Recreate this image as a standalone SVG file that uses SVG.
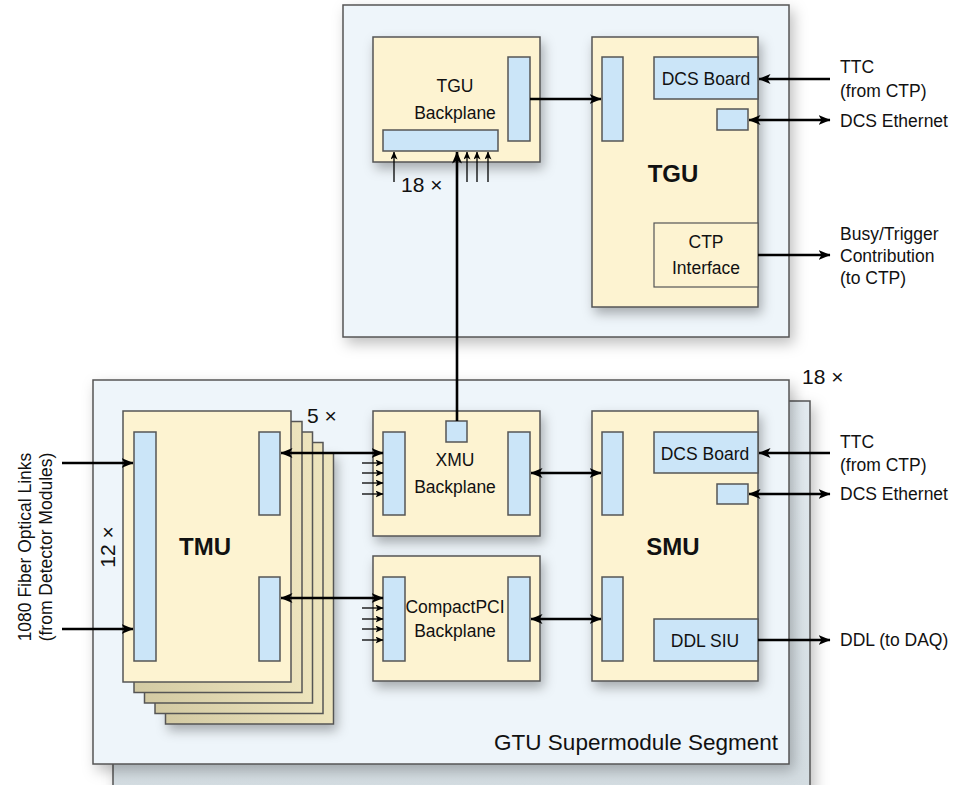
<svg xmlns="http://www.w3.org/2000/svg" width="961" height="785" viewBox="0 0 961 785">
<defs>
<filter id="sh" x="-20%" y="-20%" width="150%" height="150%">
<feDropShadow dx="4" dy="6" stdDeviation="7" flood-color="#000" flood-opacity="0.25"/>
</filter>
<filter id="shs" x="-20%" y="-20%" width="150%" height="150%">
<feDropShadow dx="3" dy="6" stdDeviation="6" flood-color="#000" flood-opacity="0.3"/>
</filter>
<linearGradient id="cardg" x1="0" y1="0" x2="1" y2="0">
<stop offset="0" stop-color="#d3caa3"/>
<stop offset="1" stop-color="#ede4bd"/>
</linearGradient>
<linearGradient id="backg" x1="0" y1="0" x2="0" y2="1">
<stop offset="0" stop-color="#e3ebf0"/>
<stop offset="1" stop-color="#d3dce1"/>
</linearGradient>
<marker id="ah" viewBox="0 0 12 10" markerWidth="12" markerHeight="10" refX="11.5" refY="5" orient="auto-start-reverse" markerUnits="userSpaceOnUse">
<path d="M0,0 L12,5 L0,10 L3,5 z" fill="#000"/>
</marker>
<marker id="ahs" viewBox="0 0 8 7" markerWidth="8" markerHeight="7" refX="7.5" refY="3.5" orient="auto-start-reverse" markerUnits="userSpaceOnUse">
<path d="M0,0 L8,3.5 L0,7 L2,3.5 z" fill="#000"/>
</marker>
</defs>
<style>
text{font-family:"Liberation Sans",Arial,sans-serif;font-size:17.5px;fill:#111}
.c{text-anchor:middle}
.b{font-weight:bold;font-size:24px}
.mult{font-size:21px}
.frame{fill:#eef5fa;stroke:#555;stroke-width:1.5}
.card{fill:#fdf3d1;stroke:#555;stroke-width:1.5}
.cardb{fill:url(#cardg);stroke:#555;stroke-width:1.5}
.conn{fill:#cbe5f8;stroke:#555;stroke-width:1.5}
.iface{fill:#fdf3d1;stroke:#555;stroke-width:1.2}
.thick{stroke:#000;stroke-width:2.6;fill:none}
.thin{stroke:#000;stroke-width:1.3;fill:none}
</style>
<rect width="961" height="785" fill="#fff"/>

<!-- top frame -->
<g id="tgu-frame">
<rect class="frame" x="343" y="5" width="446" height="332" filter="url(#sh)"/>
</g>

<!-- lower frames -->
<g id="gtu-segment-back">
<rect x="113" y="401" width="697" height="400" fill="url(#backg)" stroke="#555" stroke-width="1.5" filter="url(#sh)"/>
</g>
<g id="gtu-segment">
<rect class="frame" x="93" y="380" width="696" height="384" filter="url(#sh)"/>
<text x="778" y="750" style="font-size:22.5px;text-anchor:end">GTU Supermodule Segment</text>
<text class="mult" x="802" y="384">18 ×</text>
</g>

<!-- TGU backplane -->
<g id="tgu-backplane">
<rect class="card" x="373" y="37" width="167" height="125" filter="url(#shs)"/>
<rect class="conn" x="508" y="57" width="22" height="84"/>
<rect class="conn" x="383" y="130" width="115" height="21"/>
<text class="c" x="455" y="92">TGU</text>
<text class="c" x="455" y="119">Backplane</text>
</g>

<!-- TGU -->
<g id="tgu">
<rect class="card" x="592" y="37" width="166" height="270" filter="url(#shs)"/>
<rect class="conn" x="602" y="57" width="21" height="84"/>
<rect class="conn" x="654" y="57" width="104" height="42"/>
<text class="c" x="706" y="85">DCS Board</text>
<rect class="conn" x="717" y="109" width="31" height="21"/>
<text class="c b" x="673" y="182">TGU</text>
<rect class="iface" x="654" y="223" width="104" height="64"/>
<text class="c" x="706" y="248">CTP</text>
<text class="c" x="706" y="274">Interface</text>
</g>

<!-- TMU stack -->
<g id="tmu">
<rect class="cardb" x="165.5" y="453" width="168" height="271" filter="url(#shs)"/>
<rect class="cardb" x="155" y="442.5" width="168" height="271"/>
<rect class="cardb" x="144.5" y="432" width="168" height="271"/>
<rect class="cardb" x="134" y="421.5" width="168" height="271"/>
<rect class="card" x="123" y="411" width="168" height="271"/>
<rect class="conn" x="134" y="432" width="22" height="229"/>
<rect class="conn" x="259" y="432" width="21" height="83"/>
<rect class="conn" x="259" y="577" width="21" height="84"/>
<text class="c b" x="205" y="555">TMU</text>
<text class="mult" x="307" y="423">5 ×</text>
<text class="c mult" x="115" y="547" transform="rotate(-90 115 547)">12 ×</text>
</g>

<!-- XMU backplane -->
<g id="xmu-backplane">
<rect class="card" x="373" y="411" width="167" height="125" filter="url(#shs)"/>
<rect class="conn" x="383" y="432" width="22" height="83"/>
<rect class="conn" x="508" y="432" width="22" height="83"/>
<rect class="conn" x="446" y="421" width="21" height="21"/>
<text class="c" x="455" y="466">XMU</text>
<text class="c" x="455" y="493">Backplane</text>
</g>

<!-- CompactPCI backplane -->
<g id="cpci-backplane">
<rect class="card" x="373" y="556" width="167" height="125" filter="url(#shs)"/>
<rect class="conn" x="383" y="577" width="22" height="84"/>
<rect class="conn" x="508" y="577" width="22" height="84"/>
<text class="c" x="455" y="613">CompactPCI</text>
<text class="c" x="455" y="637">Backplane</text>
</g>

<!-- SMU -->
<g id="smu">
<rect class="card" x="592" y="411" width="166" height="270" filter="url(#shs)"/>
<rect class="conn" x="602" y="432" width="21" height="83"/>
<rect class="conn" x="602" y="577" width="21" height="84"/>
<rect class="conn" x="654" y="432" width="104" height="41"/>
<text class="c" x="705" y="460">DCS Board</text>
<rect class="conn" x="717" y="484" width="31" height="20"/>
<rect class="conn" x="654" y="619" width="104" height="42"/>
<text class="c" x="705" y="647">DDL SIU</text>
<text class="c b" x="673" y="555">SMU</text>
</g>

<!-- external labels -->
<g id="labels">
<text x="840" y="73">TTC</text>
<text x="840" y="97">(from CTP)</text>
<text x="840" y="127">DCS Ethernet</text>
<text x="840" y="240">Busy/Trigger</text>
<text x="840" y="262">Contribution</text>
<text x="840" y="284">(to CTP)</text>
<text x="840" y="448">TTC</text>
<text x="840" y="471">(from CTP)</text>
<text x="840" y="500">DCS Ethernet</text>
<text x="840" y="646">DDL (to DAQ)</text>
<text class="mult" x="401" y="192">18 ×</text>
<text class="c" x="31" y="547" transform="rotate(-90 31 547)">1080 Fiber Optical Links</text>
<text class="c" x="52" y="547" transform="rotate(-90 52 547)">(from Detector Modules)</text>
</g>

<!-- connectors -->
<g id="connectors">
<line class="thick" x1="530" y1="99" x2="601" y2="99" marker-end="url(#ah)"/>
<line class="thick" x1="830" y1="79" x2="759" y2="79" marker-end="url(#ah)"/>
<line class="thick" x1="749" y1="120" x2="830" y2="120" marker-start="url(#ah)" marker-end="url(#ah)"/>
<line class="thick" x1="758" y1="255" x2="830" y2="255" marker-end="url(#ah)"/>
<line class="thick" x1="457" y1="421" x2="457" y2="152" marker-end="url(#ah)"/>
<line class="thin" x1="394" y1="182" x2="394" y2="152" marker-end="url(#ahs)"/>
<line class="thin" x1="467" y1="182" x2="467" y2="152" marker-end="url(#ahs)"/>
<line class="thin" x1="477" y1="182" x2="477" y2="152" marker-end="url(#ahs)"/>
<line class="thin" x1="488" y1="182" x2="488" y2="152" marker-end="url(#ahs)"/>
<line class="thick" x1="62" y1="463" x2="133" y2="463" marker-end="url(#ah)"/>
<line class="thick" x1="62" y1="629" x2="133" y2="629" marker-end="url(#ah)"/>
<line class="thick" x1="281" y1="453" x2="383" y2="453" marker-start="url(#ah)" marker-end="url(#ah)"/>
<line class="thin" x1="362" y1="463" x2="383" y2="463" marker-end="url(#ahs)"/>
<line class="thin" x1="362" y1="473" x2="383" y2="473" marker-end="url(#ahs)"/>
<line class="thin" x1="362" y1="483" x2="383" y2="483" marker-end="url(#ahs)"/>
<line class="thin" x1="362" y1="494" x2="383" y2="494" marker-end="url(#ahs)"/>
<line class="thick" x1="281" y1="598" x2="383" y2="598" marker-start="url(#ah)" marker-end="url(#ah)"/>
<line class="thin" x1="362" y1="608" x2="383" y2="608" marker-end="url(#ahs)"/>
<line class="thin" x1="362" y1="619" x2="383" y2="619" marker-end="url(#ahs)"/>
<line class="thin" x1="362" y1="629" x2="383" y2="629" marker-end="url(#ahs)"/>
<line class="thin" x1="362" y1="640" x2="383" y2="640" marker-end="url(#ahs)"/>
<line class="thick" x1="531" y1="473" x2="601" y2="473" marker-start="url(#ah)" marker-end="url(#ah)"/>
<line class="thick" x1="531" y1="619" x2="601" y2="619" marker-start="url(#ah)" marker-end="url(#ah)"/>
<line class="thick" x1="830" y1="453" x2="759" y2="453" marker-end="url(#ah)"/>
<line class="thick" x1="749" y1="494" x2="830" y2="494" marker-start="url(#ah)" marker-end="url(#ah)"/>
<line class="thick" x1="758" y1="640" x2="830" y2="640" marker-end="url(#ah)"/>
</g>
</svg>
